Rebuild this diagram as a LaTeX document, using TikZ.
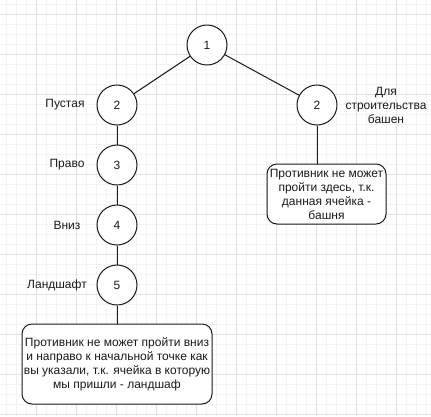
\documentclass[tikz,border=0pt]{standalone}
\usepackage{fontspec}
\setmainfont{Liberation Sans}
\definecolor{minorgrid}{HTML}{F3F3F3}
\definecolor{majorgrid}{HTML}{E2E2E2}
\definecolor{ink}{HTML}{1A1A1A}
\begin{document}
\begin{tikzpicture}[x=1pt,y=-1pt,
  circ/.style={circle,draw=ink,line width=1pt,minimum size=40pt,inner sep=0pt,fill=white,font=\fontsize{12}{14}\selectfont,text=ink},
  rbox/.style={rectangle,rounded corners=10pt,draw=ink,line width=1pt,fill=white,align=center,inner sep=0pt,font=\fontsize{12}{14}\selectfont,text=ink},
  lbl/.style={align=center,inner sep=0pt,font=\fontsize{12}{14}\selectfont,text=ink},
  conn/.style={draw=ink,line width=1pt}]
\useasboundingbox (0,0) rectangle (431,416);
\fill[white] (0,0) rectangle (431,416);
\foreach \i in {6,16,...,426} \draw[minorgrid,line width=0.6pt] (\i,0) -- (\i,416);
\foreach \j in {4,14,...,414} \draw[minorgrid,line width=0.6pt] (0,\j) -- (431,\j);
\foreach \i in {36,76,...,396} \draw[majorgrid,line width=0.8pt] (\i,0) -- (\i,416);
\foreach \j in {14,54,...,414} \draw[majorgrid,line width=0.8pt] (0,\j) -- (431,\j);

\node[circ] (n1) at (207,45) {1};
\node[circ] (l2) at (117,105) {2};
\node[circ] (r2) at (317,105) {2};
\node[circ] (n3) at (117,165) {3};
\node[circ] (n4) at (117,225) {4};
\node[circ] (n5) at (117,285) {5};

\node[rbox,minimum width=119pt,minimum height=60pt] (rb) at (326.5,194) {Противник не может\\пройти здесь, т.к.\\данная ячейка -\\башня};
\node[rbox,minimum width=190pt,minimum height=80pt] (lb) at (117,364) {Противник не может пройти вниз\\и направо к начальной точке как\\вы указали, т.к. ячейка в которую\\мы пришли - ландшаф};

\node[lbl] (t1) at (65,105) {Пустая};
\node[lbl] (t2) at (67,165) {Право};
\node[lbl] (t3) at (67,225) {Вниз};
\node[lbl] (t4) at (57,285) {Ландшафт};
\node[lbl] (t5) at (386,105) {Для\\строительства\\башен};

\draw[conn] (n1) -- (l2);
\draw[conn] (n1) -- (r2);
\draw[conn] (l2) -- (n3);
\draw[conn] (n3) -- (n4);
\draw[conn] (n4) -- (n5);
\draw[conn] (n5) -- (lb);
\draw[conn] (r2.south) -- (r2.south |- rb.north);
\end{tikzpicture}
\end{document}
